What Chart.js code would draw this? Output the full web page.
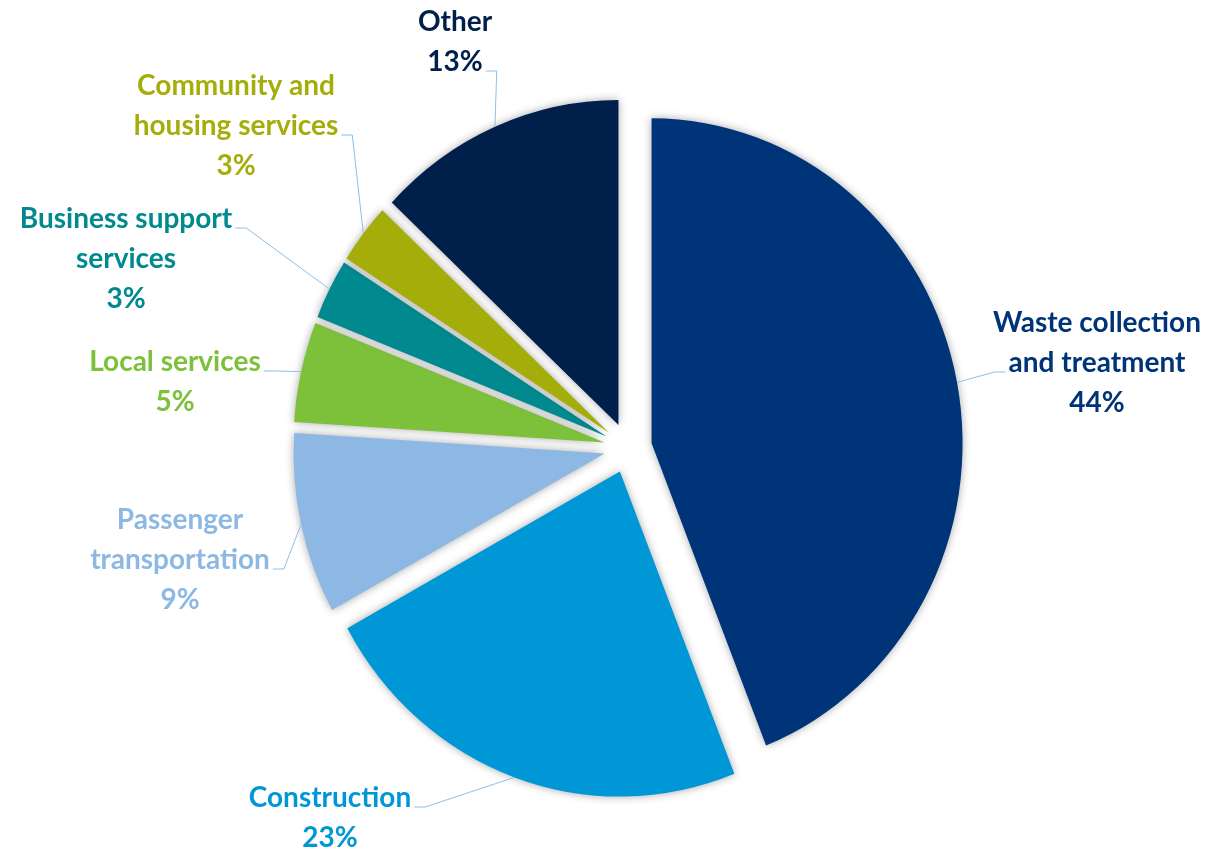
<!DOCTYPE html>
<html>
<head>
<meta charset="utf-8">
<title>Emissions by sector</title>
<script src="https://cdn.jsdelivr.net/npm/chart.js@4.4.1/dist/chart.umd.min.js"></script>
<style>
  html, body { margin: 0; padding: 0; background: #ffffff; }
  #wrap { width: 1211px; height: 853px; position: relative; }
</style>
</head>
<body>
<div id="wrap"><canvas id="pieChart"></canvas></div>
<script>
// Data (clockwise from 12 o'clock)
const categories = [
  'Waste collection and treatment',
  'Construction',
  'Passenger transportation',
  'Local services',
  'Business support services',
  'Community and housing services',
  'Other'
];
const shares = [44, 23, 9, 5, 3, 3, 13];
const sliceColors = ['#003478', '#0097d7', '#8eb8e4', '#7dc13b', '#008a8f', '#a5ad0a', '#001f4b'];

// How each category name wraps on the chart
const labelLines = [
  ['Waste collection', 'and treatment'],
  ['Construction'],
  ['Passenger', 'transportation'],
  ['Local services'],
  ['Business support', 'services'],
  ['Community and', 'housing services'],
  ['Other']
];

// Label layout: block centre x, first line y, leader attaches to which line / side
const labelLayout = [
  { x: 1097, y: 323, line: 1, side: 'left' },
  { x: 330, y: 798, line: 0, side: 'right' },
  { x: 180, y: 520, line: 1, side: 'right' },
  { x: 175, y: 362, line: 0, side: 'right' },
  { x: 126, y: 219, line: 0, side: 'right' },
  { x: 236, y: 86, line: 1, side: 'right' },
  { x: 455, y: 22, line: 1, side: 'right' }
];

const RADIUS = 311;
const EXPLODE = 24;        // every slice pulled out from the centre by the same distance
const STRETCH_Y = 1.045;   // reference pie is slightly taller than wide
const LINE_H = 40;
const LABEL_FONT = 'bold 28px Lato';
const LEADER_COLOR = '#8cbfea';

// Draw the arcs ourselves so every slice is translated without Chart.js growing its radius
const explodedPiePlugin = {
  id: 'explodedPie',
  beforeDatasetsDraw(chart) {
    const arcs = chart.getDatasetMeta(0).data;
    const ctx = chart.ctx;
    const cx = arcs[0].x, cy = arcs[0].y;
    ctx.save();
    ctx.translate(cx, cy);
    ctx.scale(1, STRETCH_Y);
    ctx.translate(-cx, -cy);
    ctx.shadowColor = 'rgba(0, 0, 0, 0.35)';
    ctx.shadowBlur = 9;
    arcs.forEach((arc) => {
      const mid = (arc.startAngle + arc.endAngle) / 2;
      ctx.save();
      ctx.translate(Math.cos(mid) * EXPLODE, Math.sin(mid) * EXPLODE);
      arc.draw(ctx);
      ctx.restore();
    });
    ctx.restore();
    return false;
  }
};

const leaderLabelPlugin = {
  id: 'leaderLabels',
  afterDraw(chart) {
    const ctx = chart.ctx;
    const arcs = chart.getDatasetMeta(0).data;
    ctx.save();
    ctx.font = LABEL_FONT;
    ctx.textAlign = 'center';
    ctx.textBaseline = 'middle';

    arcs.forEach((arc, i) => {
      const lay = labelLayout[i];
      const lines = labelLines[i].concat([shares[i] + '%']);
      const mid = (arc.startAngle + arc.endAngle) / 2;
      const reach = EXPLODE + arc.outerRadius;
      const ax = arc.x + Math.cos(mid) * reach;
      const ay = arc.y + Math.sin(mid) * reach * STRETCH_Y;

      // leader line: text edge -> short horizontal -> slice edge
      const w = ctx.measureText(lines[lay.line]).width;
      const sign = lay.side === 'left' ? -1 : 1;
      const ty = lay.y + lay.line * LINE_H + 9;
      const tx = lay.x + sign * (w / 2 + 3);
      ctx.strokeStyle = LEADER_COLOR;
      ctx.lineWidth = 1;
      ctx.beginPath();
      ctx.moveTo(tx, ty);
      ctx.lineTo(tx + sign * 11, ty);
      ctx.lineTo(ax, ay);
      ctx.stroke();

      ctx.fillStyle = sliceColors[i];
      lines.forEach((t, k) => {
        ctx.fillText(t, lay.x, lay.y + k * LINE_H);
      });
    });
    ctx.restore();
  }
};

const ctx = document.getElementById('pieChart').getContext('2d');
new Chart(ctx, {
  type: 'pie',
  data: {
    labels: categories,
    datasets: [{
      data: shares,
      backgroundColor: sliceColors,
      borderWidth: 0,
      radius: RADIUS,
      offset: 0,
      hoverOffset: 0
    }]
  },
  options: {
    responsive: true,
    maintainAspectRatio: false,
    animation: false,
    layout: { padding: { left: 45, top: 43, right: 0, bottom: 0 } },
    plugins: {
      legend: { display: false },
      tooltip: { enabled: false }
    }
  },
  plugins: [explodedPiePlugin, leaderLabelPlugin]
});
</script>
</body>
</html>
